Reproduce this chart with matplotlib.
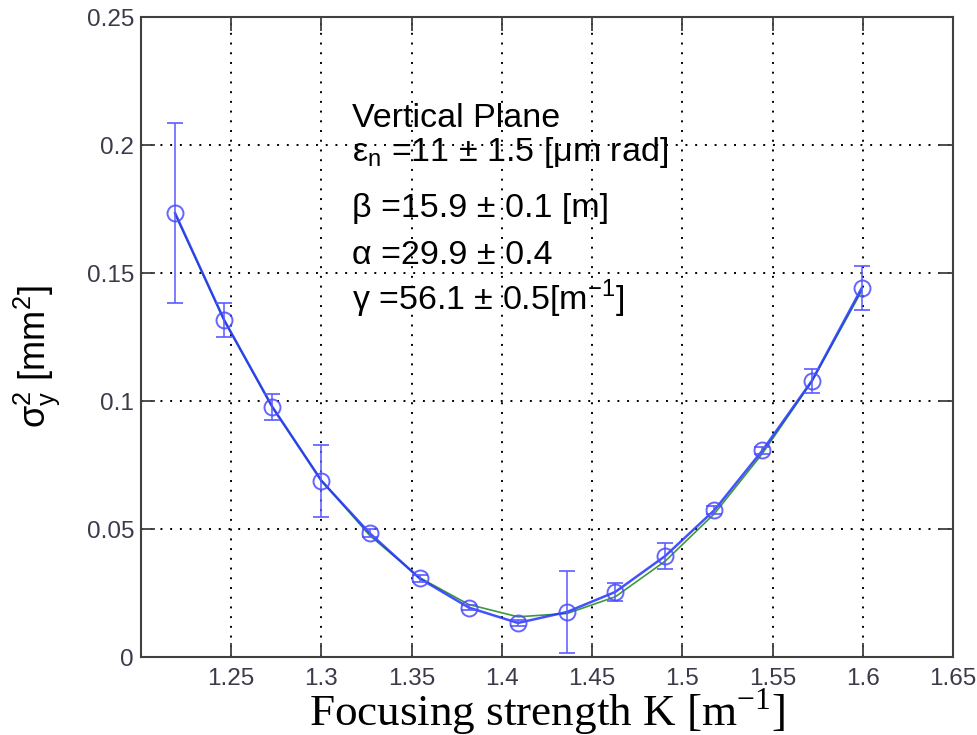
import matplotlib
matplotlib.use("Agg")
import matplotlib.pyplot as plt
import numpy as np

# ---- data ----
k_values = [1.2189, 1.2461, 1.2728, 1.3000, 1.3267, 1.3544, 1.3817, 1.4089,
            1.4361, 1.4628, 1.4906, 1.5178, 1.5444, 1.5717, 1.5994]
sigma2_meas = [0.1734, 0.1316, 0.0977, 0.0688, 0.0484, 0.0307, 0.0193, 0.0133,
               0.0176, 0.0254, 0.0395, 0.0574, 0.0807, 0.1078, 0.1441]
sigma2_err = [0.0350, 0.0065, 0.0050, 0.0140, 0.0015, 0.0015, 0.0010, 0.0010,
              0.0160, 0.0037, 0.0050, 0.0015, 0.0015, 0.0047, 0.0086]
sigma2_fit = [0.1730, 0.1315, 0.0975, 0.0690, 0.0475, 0.0310, 0.0205, 0.0157,
              0.0170, 0.0235, 0.0375, 0.0560, 0.0795, 0.1075, 0.1430]
x_ticks = [1.25, 1.3, 1.35, 1.4, 1.45, 1.5, 1.55, 1.6, 1.65]
x_tick_labels = ["1.25", "1.3", "1.35", "1.4", "1.45", "1.5", "1.55", "1.6", "1.65"]
y_ticks = [0, 0.05, 0.1, 0.15, 0.2, 0.25]
y_tick_labels = ["0", "0.05", "0.1", "0.15", "0.2", "0.25"]
annotation_lines = [
    "Vertical Plane",
    "ε$_{\\mathregular{n}}$ =11 ± 1.5 [μm rad]",
    "β =15.9 ± 0.1 [m]",
    "α =29.9 ± 0.4",
    "γ =56.1 ± 0.5[m$^{\\mathregular{−1}}$]",
]
annotation_y = [0.2105, 0.197, 0.175, 0.157, 0.140]

plt.rcParams["font.family"] = ["Liberation Sans", "DejaVu Sans"]

fig = plt.figure(figsize=(9.77, 7.35), dpi=100)
ax = fig.add_axes([141 / 977, 78 / 735, 812 / 977, 640 / 735])

ax.plot(k_values, sigma2_fit, color="#3c9a3c", lw=1.2, zorder=2)
ax.plot(k_values, sigma2_meas, color="#2233ff", lw=1.8, alpha=0.85, zorder=3)
ax.errorbar(k_values, sigma2_meas, yerr=sigma2_err, fmt="o", ms=11.5,
            mfc="none", mec="#4a4aff", mew=1.4, ecolor="#5a5aff", elinewidth=1.3,
            capsize=5.5, capthick=1.3, alpha=0.85, zorder=4)

ax.set_xlim(1.2, 1.65)
ax.set_ylim(0, 0.25)
ax.set_xticks(x_ticks)
ax.set_xticklabels(x_tick_labels)
ax.set_yticks(y_ticks)
ax.set_yticklabels(y_tick_labels)

ax.grid(True, color="black", linestyle=(0, (1, 4)), linewidth=1.4)
ax.set_axisbelow(True)

for sp in ax.spines.values():
    sp.set_color("#404040")
    sp.set_linewidth(1.5)
ax.tick_params(direction="in", length=10, width=1.3, color="#404040",
               top=True, right=True, labelsize=17.5, labelcolor="#3a3a4a")
ax.tick_params(axis="x", pad=8)
ax.tick_params(axis="y", pad=5)

ax.set_xlabel("Focusing strength K [m$^{\\mathregular{-1}}$]",
              family=["Liberation Serif", "DejaVu Serif"], fontsize=32.5,
              color="black", va="baseline")
ax.xaxis.set_label_coords(0.5, -0.108)
ax.set_ylabel("$\\mathregular{σ^2_y}$ [mm$^{\\mathregular{2}}$]", fontsize=26,
              color="black", va="center")
ax.yaxis.set_label_coords(-0.128, 0.47)

for txt, yv in zip(annotation_lines, annotation_y):
    ax.text(1.317, yv, txt, fontsize=24.5, color="black", ha="left", va="center",
            zorder=5)

fig.savefig("out.png", dpi=100)
